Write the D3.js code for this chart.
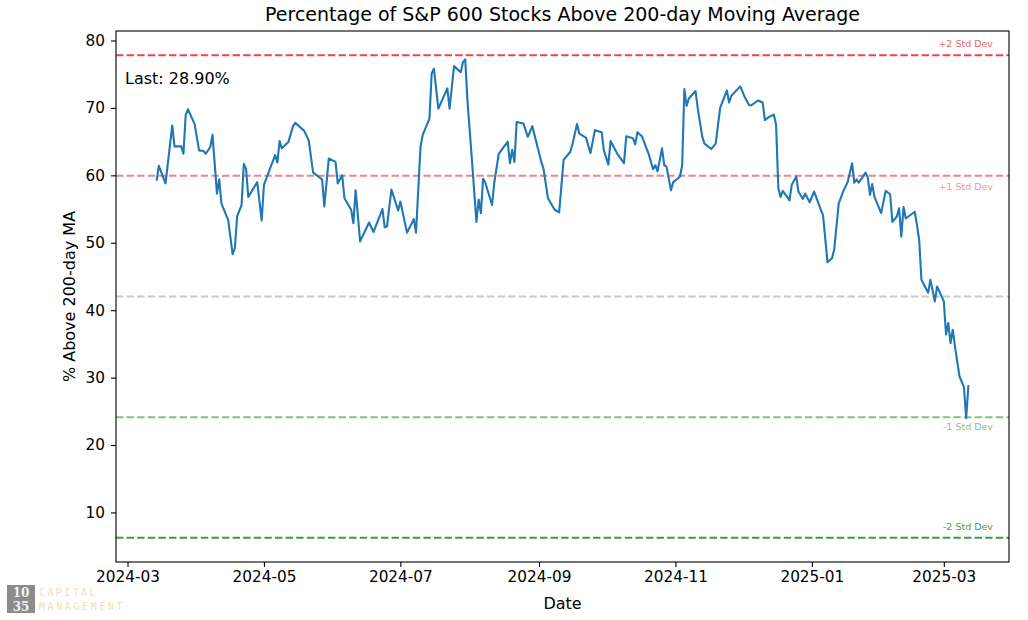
<!DOCTYPE html>
<html>
<head>
<meta charset="utf-8">
<script src="https://cdn.jsdelivr.net/npm/d3@7"></script>
<style>
body { margin: 0; background: #fff; }
.graph text { font-family: "DejaVu Sans", sans-serif; }
</style>
</head>
<body>
<div class="graph"></div>
<script>
// values (vertices of the line)
const dates = [
  "2024-03-14","2024-03-15","2024-03-18","2024-03-21","2024-03-22","2024-03-25","2024-03-26","2024-03-27","2024-03-28","2024-03-31",
  "2024-04-02","2024-04-04","2024-04-05","2024-04-07","2024-04-08","2024-04-10","2024-04-11","2024-04-12","2024-04-15","2024-04-17",
  "2024-04-18","2024-04-19","2024-04-21","2024-04-22","2024-04-23","2024-04-24","2024-04-28","2024-04-30","2024-05-01","2024-05-06",
  "2024-05-07","2024-05-08","2024-05-09","2024-05-12","2024-05-14","2024-05-15","2024-05-19","2024-05-21","2024-05-23","2024-05-27",
  "2024-05-28","2024-05-30","2024-06-02","2024-06-03","2024-06-05","2024-06-06","2024-06-09","2024-06-10","2024-06-11","2024-06-13",
  "2024-06-15","2024-06-17","2024-06-19","2024-06-23","2024-06-24","2024-06-25","2024-06-27","2024-06-30","2024-07-01","2024-07-04",
  "2024-07-07","2024-07-08","2024-07-10","2024-07-11","2024-07-14","2024-07-15","2024-07-16","2024-07-18","2024-07-22","2024-07-23",
  "2024-07-25","2024-07-28","2024-07-29","2024-07-30","2024-07-31","2024-08-02","2024-08-04","2024-08-05","2024-08-06","2024-08-07",
  "2024-08-08","2024-08-11","2024-08-12","2024-08-14","2024-08-18","2024-08-19","2024-08-20","2024-08-21","2024-08-22","2024-08-25",
  "2024-08-27","2024-08-29","2024-09-02","2024-09-03","2024-09-05","2024-09-08","2024-09-10","2024-09-12","2024-09-15","2024-09-16",
  "2024-09-18","2024-09-19","2024-09-22","2024-09-24","2024-09-26","2024-09-29","2024-09-30","2024-10-02","2024-10-03","2024-10-06",
  "2024-10-09","2024-10-10","2024-10-13","2024-10-14","2024-10-15","2024-10-17","2024-10-20","2024-10-22","2024-10-23","2024-10-24",
  "2024-10-26","2024-10-27","2024-10-28","2024-10-30","2024-10-31","2024-11-03","2024-11-04","2024-11-05","2024-11-06","2024-11-07",
  "2024-11-10","2024-11-11","2024-11-13","2024-11-14","2024-11-17","2024-11-19","2024-11-21","2024-11-24","2024-11-25","2024-11-26",
  "2024-11-30","2024-12-02","2024-12-04","2024-12-05","2024-12-08","2024-12-10","2024-12-11","2024-12-13","2024-12-15","2024-12-16",
  "2024-12-17","2024-12-18","2024-12-19","2024-12-22","2024-12-23","2024-12-25","2024-12-26","2024-12-28","2024-12-29","2024-12-31",
  "2025-01-02","2025-01-04","2025-01-05","2025-01-06","2025-01-08","2025-01-10","2025-01-11","2025-01-13","2025-01-15","2025-01-17",
  "2025-01-19","2025-01-20","2025-01-21","2025-01-22","2025-01-25","2025-01-26","2025-01-27","2025-01-28","2025-01-29","2025-02-01",
  "2025-02-03","2025-02-05","2025-02-06","2025-02-08","2025-02-09","2025-02-10","2025-02-11","2025-02-12","2025-02-16","2025-02-17",
  "2025-02-18","2025-02-19","2025-02-22","2025-02-23","2025-02-25","2025-02-26","2025-02-27","2025-03-01","2025-03-02","2025-03-03",
  "2025-03-04","2025-03-05","2025-03-06","2025-03-08","2025-03-10","2025-03-11","2025-03-12"
];
const values = [
  59.2,61.4,58.8,67.4,64.3,64.3,63.2,68.9,69.8,67.6,
  63.7,63.6,63.2,64.2,66.0,57.3,59.4,55.8,53.4,48.3,
  49.2,53.9,55.6,61.7,61.0,56.8,59.0,53.3,58.6,63.0,
  61.9,65.1,64.0,65.0,67.3,67.8,66.6,65.2,60.4,59.4,
  55.4,62.5,62.0,58.8,60.0,56.6,54.9,52.9,57.8,50.2,
  51.6,53.0,51.6,55.0,52.3,52.4,57.9,54.8,56.1,51.5,
  53.5,51.5,64.2,66.0,68.4,75.1,75.8,69.9,72.9,69.9,
  76.2,75.3,76.8,77.2,71.1,62.3,53.1,56.4,54.4,59.5,
  58.9,55.6,58.9,63.2,65.0,61.8,63.8,62.0,67.9,67.7,
  65.7,67.3,62.0,61.0,56.6,54.9,54.5,62.3,63.5,64.7,
  67.6,66.2,65.6,63.3,66.7,66.4,63.7,61.6,65.1,63.2,
  61.8,65.8,65.5,64.6,66.4,65.8,63.2,60.9,61.5,60.6,
  64.0,61.5,61.3,57.8,59.0,59.8,61.5,72.8,70.3,71.4,
  72.5,69.9,65.7,64.7,63.9,64.7,70.0,72.6,70.8,71.8,
  73.2,71.6,70.4,70.4,71.1,70.8,68.2,68.7,69.0,67.5,
  58.1,56.8,57.7,56.3,58.6,59.8,57.6,56.5,57.3,56.0,
  57.6,55.8,54.9,54.1,47.1,47.7,49.0,55.8,57.6,59.0,
  61.8,58.9,59.4,58.9,60.4,59.7,57.1,58.7,56.8,54.4,
  57.7,57.2,53.1,53.9,55.1,50.9,55.3,53.6,54.6,52.6,
  50.4,44.5,42.6,44.5,41.3,43.5,42.8,41.3,36.4,38.1,
  35.1,37.1,34.6,30.2,28.6,24.0,28.9
];

// mean and standard deviation of the history
const bandMean = 42.03;
const bandStd = 17.9;
const bandMult = [2, 1, 0, -1, -2];
const bandLabels = ["+2 Std Dev", "+1 Std Dev", "", "-1 Std Dev", "-2 Std Dev"];

const yTicks = [10, 20, 30, 40, 50, 60, 70, 80];
const xTicks = ["2024-03-01","2024-05-01","2024-07-01","2024-09-01","2024-11-01","2025-01-01","2025-03-01"];

const parse = d3.timeParse("%Y-%m-%d");
const dataset = dates.map((d, i) => [parse(d), values[i]]);

const w = 1028;
const h = 620;
const m = {left: 116, right: 19, top: 31, bottom: 58};

// matplotlib style 5% margins
const ext = d3.extent(dataset, d => d[0]);
const padT = (ext[1] - ext[0]) * 0.05;
const xScale = d3.scaleTime()
  .domain([new Date(+ext[0] - padT), new Date(+ext[1] + padT)])
  .range([m.left, w - m.right]);

const lo = bandMean - 2 * bandStd, hi = bandMean + 2 * bandStd;
const padY = (hi - lo) * 0.05;
const yScale = d3.scaleLinear()
  .domain([lo - padY, hi + padY])
  .range([h - m.bottom, m.top]);

const svg = d3.select(".graph")
  .append("svg")
  .attr("width", w)
  .attr("height", h);

// band lines
const bandStroke = ["#e8474a", "#ef8585", "#c9c9c9", "#84c184", "#3f9b3f"];
const bandText = ["#e46a6a", "#ef9898", "#999", "#86bf86", "#4a9e4a"];
const bandDy = [-8, 14, 0, 13, -8];

bandMult.forEach(function(k, i) {
  const yv = yScale(bandMean + k * bandStd);
  svg.append("line")
    .attr("x1", m.left).attr("x2", w - m.right)
    .attr("y1", yv).attr("y2", yv)
    .attr("stroke", bandStroke[i])
    .attr("stroke-width", 2)
    .attr("stroke-dasharray", "7.4,3.2");
  if (bandLabels[i]) {
    svg.append("text")
      .attr("x", w - m.right - 16)
      .attr("y", yv + bandDy[i])
      .style("text-anchor", "end")
      .style("font-size", "9.5px")
      .attr("fill", bandText[i])
      .text(bandLabels[i]);
  }
});

const line = d3.line()
  .x(d => xScale(d[0]))
  .y(d => yScale(d[1]));

svg.append("path")
  .datum(dataset)
  .attr("d", line)
  .attr("fill", "none")
  .attr("stroke", "#1f77b4")
  .attr("stroke-width", 2.1)
  .attr("stroke-linejoin", "round");

// axes
const xAxis = d3.axisBottom(xScale)
  .tickValues(xTicks.map(parse))
  .tickFormat(d3.timeFormat("%Y-%m"))
  .tickSize(5).tickPadding(4);
const yAxis = d3.axisLeft(yScale)
  .tickValues(yTicks)
  .tickSize(5).tickPadding(6);

const gx = svg.append("g")
  .attr("transform", "translate(0," + (h - m.bottom) + ")")
  .call(xAxis);
const gy = svg.append("g")
  .attr("transform", "translate(" + m.left + ",0)")
  .call(yAxis);
[gx, gy].forEach(function(g) {
  g.select(".domain").remove();
  g.selectAll("line").attr("stroke", "#000").attr("stroke-width", 1.1);
  g.selectAll("text")
    .style("font-family", "DejaVu Sans, sans-serif")
    .style("font-size", "15.3px")
    .attr("fill", "#000");
});

// frame
svg.append("rect")
  .attr("x", m.left).attr("y", m.top)
  .attr("width", w - m.left - m.right)
  .attr("height", h - m.top - m.bottom)
  .attr("fill", "none")
  .attr("stroke", "#000")
  .attr("stroke-width", 1.1);

svg.append("text")
  .attr("x", (m.left + w - m.right) / 2)
  .attr("y", 21)
  .style("text-anchor", "middle")
  .style("font-size", "19px")
  .text("Percentage of S&P 600 Stocks Above 200-day Moving Average");

svg.append("text")
  .attr("x", (m.left + w - m.right) / 2)
  .attr("y", 609)
  .style("text-anchor", "middle")
  .style("font-size", "16px")
  .text("Date");

svg.append("text")
  .attr("transform", "translate(75," + ((m.top + h - m.bottom) / 2) + ") rotate(-90)")
  .style("text-anchor", "middle")
  .style("font-size", "16px")
  .text("% Above 200-day MA");

svg.append("text")
  .attr("x", m.left + 9)
  .attr("y", 84)
  .style("font-size", "16px")
  .text("Last: " + values[values.length - 1].toFixed(2) + "%");

// logo
const logo = svg.append("g");
logo.append("rect")
  .attr("x", 7).attr("y", 585)
  .attr("width", 28).attr("height", 28)
  .attr("fill", "#8c8c8c");
logo.append("text").attr("x", 21).attr("y", 597)
  .style("text-anchor", "middle").style("font-family", "DejaVu Serif, serif")
  .style("font-size", "12px").style("font-weight", "bold").attr("fill", "#f2f2f2").text("10");
logo.append("text").attr("x", 21).attr("y", 611)
  .style("text-anchor", "middle").style("font-family", "DejaVu Serif, serif")
  .style("font-size", "12px").style("font-weight", "bold").attr("fill", "#f2f2f2").text("35");
logo.append("text").attr("x", 39).attr("y", 596)
  .style("font-family", "DejaVu Sans Mono, monospace").style("font-size", "10px")
  .style("letter-spacing", "2.4px").attr("fill", "#f1e2b6").text("CAPITAL");
logo.append("text").attr("x", 39).attr("y", 610)
  .style("font-family", "DejaVu Sans Mono, monospace").style("font-size", "10px")
  .style("letter-spacing", "2.6px").attr("fill", "#f1e2b6").text("MANAGEMENT");
</script>
</body>
</html>
